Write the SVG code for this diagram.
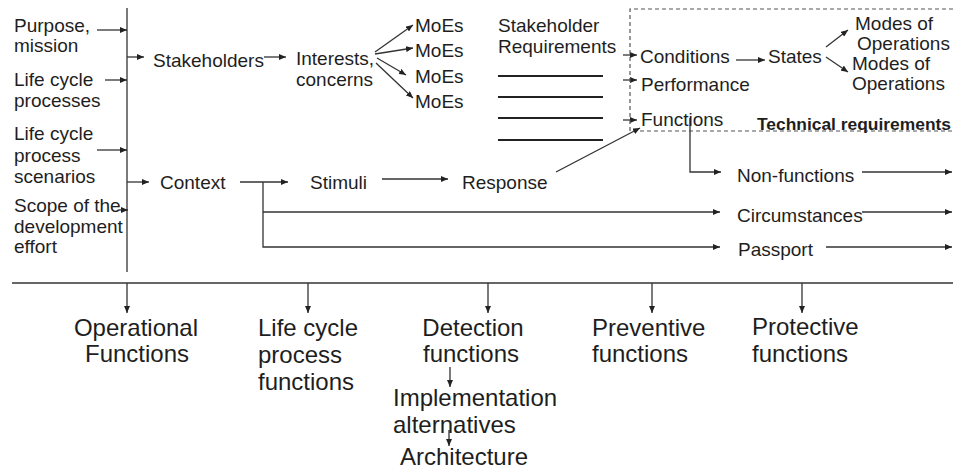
<svg xmlns="http://www.w3.org/2000/svg" width="953" height="470" viewBox="0 0 953 470">
<defs>
<marker id="ah" markerUnits="userSpaceOnUse" markerWidth="8" markerHeight="6" refX="7" refY="3" orient="auto">
<path d="M0,0 L7,3 L0,6 z" fill="#222"/>
</marker>
<style>
text { font-family: "Liberation Sans", Arial, sans-serif; fill: #1e1e1e; }
.t { font-size: 19px; }
.b { font-size: 24px; }
.tr { font-size: 16px; font-weight: bold; }
.ln { stroke: #333; stroke-width: 1.3; fill: none; }
.ar { marker-end: url(#ah); }
.dash { stroke: #555; stroke-width: 1.2; stroke-dasharray: 4 3; fill: none; }
.req { stroke: #222; stroke-width: 2.2; }
.mid { text-anchor: middle; }
</style>
</defs>
<rect width="953" height="470" fill="#fff"/>

<g id="connectors">
<path class="ln" d="M127,8 V272"/>
<path class="ln" d="M12,283 H953"/>
<path class="ln ar" d="M97,30 H127"/>
<path class="ln ar" d="M105,80 H127"/>
<path class="ln ar" d="M97,150 H127"/>
<path class="ln ar" d="M119,210 H128"/>
<path class="ln ar" d="M127,57 H144"/>
<path class="ln ar" d="M264,57 H286"/>
<path class="ln ar" d="M375,52 L413,25"/>
<path class="ln ar" d="M375,54 L413,48"/>
<path class="ln ar" d="M377,58 L406,75"/>
<path class="ln ar" d="M376,63 L413,98"/>
<path class="req" d="M498,76 H603 M498,97 H603 M498,118 H603 M498,140 H603"/>
<path class="ln ar" d="M623,55 H637"/>
<path class="ln ar" d="M623,80 H637"/>
<path class="ln ar" d="M623,120 H637"/>
<path class="ln ar" d="M736,60 H765"/>
<path class="ln ar" d="M826,47 L848,30"/>
<path class="ln ar" d="M826,57 L848,72"/>
<path class="dash" d="M953,9 H630 V131 H953"/>
<path class="ln ar" d="M127,182 H149"/>
<path class="ln ar" d="M240,182 H288"/>
<path class="ln ar" d="M382,179 H448"/>
<path class="ln ar" d="M556,172 L640,128"/>
<path class="ln ar" d="M263,182 V247 H720"/>
<path class="ln ar" d="M263,212 H720"/>
<path class="ln ar" d="M690,118 V172 H721"/>
<path class="ln ar" d="M862,172 H952"/>
<path class="ln ar" d="M862,212 H952"/>
<path class="ln ar" d="M826,247 H952"/>
<path class="ln ar" d="M127,283 V313"/>
<path class="ln ar" d="M308,283 V313"/>
<path class="ln ar" d="M488,283 V313"/>
<path class="ln ar" d="M652,283 V313"/>
<path class="ln ar" d="M802,283 V313"/>
<path class="ln ar" d="M450,367 V387"/>
<path class="ln ar" d="M449,430 V446"/>
</g>

<g id="purpose"><text class="t" x="14" y="32">Purpose,</text><text class="t" x="14" y="52">mission</text></g>
<g id="lc-processes"><text class="t" x="14" y="86">Life cycle</text><text class="t" x="14" y="107">processes</text></g>
<g id="lc-scenarios"><text class="t" x="14" y="140">Life cycle</text><text class="t" x="14" y="162">process</text><text class="t" x="14" y="183">scenarios</text></g>
<g id="scope"><text class="t" x="14" y="212">Scope of the</text><text class="t" x="14" y="233">development</text><text class="t" x="14" y="253">effort</text></g>

<g id="stakeholders"><text class="t" x="153" y="67">Stakeholders</text></g>
<g id="interests"><text class="t" x="296" y="65">Interests,</text><text class="t" x="296" y="86">concerns</text></g>
<g id="moes1"><text class="t" x="415" y="32">MoEs</text></g>
<g id="moes2"><text class="t" x="415" y="57">MoEs</text></g>
<g id="moes3"><text class="t" x="415" y="83">MoEs</text></g>
<g id="moes4"><text class="t" x="415" y="108">MoEs</text></g>
<g id="stakeholder-req"><text class="t" x="498" y="32">Stakeholder</text><text class="t" x="498" y="53">Requirements</text></g>
<g id="conditions"><text class="t" x="640" y="63">Conditions</text></g>
<g id="performance"><text class="t" x="641" y="91">Performance</text></g>
<g id="functions"><text class="t" x="641" y="126">Functions</text></g>
<g id="states"><text class="t" x="768" y="63">States</text></g>
<g id="modes1"><text class="t" x="855" y="30">Modes of</text><text class="t" x="857" y="50">Operations</text></g>
<g id="modes2"><text class="t" x="852" y="70">Modes of</text><text class="t" x="852" y="90">Operations</text></g>
<g id="tech-req"><text class="tr" x="757" y="130" textLength="194" lengthAdjust="spacingAndGlyphs">Technical requirements</text></g>

<g id="context"><text class="t" x="160" y="189">Context</text></g>
<g id="stimuli"><text class="t" x="310" y="189">Stimuli</text></g>
<g id="response"><text class="t" x="462" y="189">Response</text></g>
<g id="non-functions"><text class="t" x="737" y="182">Non-functions</text></g>
<g id="circumstances"><text class="t" x="737" y="222">Circumstances</text></g>
<g id="passport"><text class="t" x="738" y="256">Passport</text></g>

<g id="operational"><text class="b mid" x="136" y="336">Operational</text><text class="b mid" x="137" y="362">Functions</text></g>
<g id="lc-functions"><text class="b" x="258" y="336">Life cycle</text><text class="b" x="258" y="363">process</text><text class="b" x="258" y="390">functions</text></g>
<g id="detection"><text class="b mid" x="473" y="336">Detection</text><text class="b mid" x="471" y="362">functions</text></g>
<g id="implementation"><text class="b" x="393" y="406">Implementation</text><text class="b" x="393" y="433">alternatives</text></g>
<g id="architecture"><text class="b" x="400" y="465">Architecture</text></g>
<g id="preventive"><text class="b" x="592" y="336">Preventive</text><text class="b" x="592" y="362">functions</text></g>
<g id="protective"><text class="b" x="752" y="335">Protective</text><text class="b" x="752" y="362">functions</text></g>
</svg>
